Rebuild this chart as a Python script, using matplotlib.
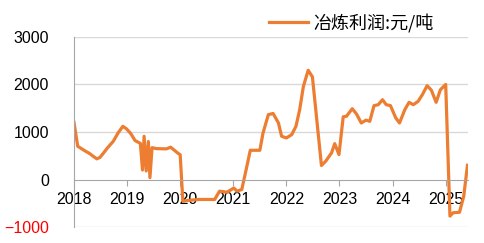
import matplotlib
matplotlib.use("Agg")
import matplotlib.pyplot as plt

# data: time in decimal years, smelting profit (yuan/ton)
t = [2018.00, 2018.07, 2018.21, 2018.29, 2018.36, 2018.43, 2018.49, 2018.55, 2018.63, 2018.74,
     2018.83, 2018.92, 2018.99, 2019.07, 2019.15, 2019.25, 2019.29, 2019.32, 2019.36, 2019.40,
     2019.43, 2019.47, 2019.55, 2019.74, 2019.82, 2019.95, 2020.00, 2020.05, 2020.15, 2020.35,
     2020.65, 2020.74, 2020.88, 2021.01, 2021.07, 2021.16, 2021.25, 2021.32, 2021.50, 2021.56,
     2021.66, 2021.75, 2021.85, 2021.91, 2022.00, 2022.10, 2022.18, 2022.25, 2022.32, 2022.41,
     2022.49, 2022.66, 2022.74, 2022.85, 2022.91, 2022.99, 2023.07, 2023.13, 2023.24, 2023.32,
     2023.41, 2023.50, 2023.57, 2023.65, 2023.73, 2023.81, 2023.88, 2023.96, 2024.06, 2024.13,
     2024.23, 2024.31, 2024.39, 2024.48, 2024.56, 2024.65, 2024.73, 2024.82, 2024.90, 2025.00,
     2025.08, 2025.14, 2025.26, 2025.34, 2025.41]
profit = [1200, 700, 600, 550, 490, 435, 465, 550, 665, 805,
          980, 1120, 1065, 965, 820, 760, 200, 910, 180, 800,
          40, 670, 650, 645, 680, 560, 520, -460, -440, -420,
          -420, -246, -267, -180, -246, -210, 250, 615, 615, 980,
          1365, 1390, 1190, 910, 875, 945, 1120, 1470, 1960, 2300,
          2160, 295, 385, 560, 755, 525, 1320, 1330, 1490, 1380,
          1190, 1250, 1225, 1555, 1575, 1680, 1575, 1555, 1295, 1190,
          1470, 1625, 1575, 1645, 1785, 1975, 1880, 1625, 1890, 2000,
          -770, -700, -690, -350, 300]
years = [2018, 2019, 2020, 2021, 2022, 2023, 2024, 2025]
yticks = [-1000, 0, 1000, 2000, 3000]
label = "冶炼利润:元/吨"

plt.rcParams['font.family'] = ['Liberation Sans', 'Noto Sans CJK SC']

fig = plt.figure(figsize=(4.85, 2.43), dpi=100)
ax = fig.add_axes([74/485, 1-227/243, (468-74)/485, 190/243])

ax.plot(t, profit, color='#ED7D31', lw=2.3, label=label, solid_joinstyle='round')

ax.set_xlim(2018, 2025.42)
ax.set_ylim(-1000, 3000)
ax.set_yticks(yticks)
ax.set_xticks(years)
ax.set_xticklabels([str(y) for y in years])
for y in [-1000, 1000, 2000, 3000]:
    ax.axhline(y, color='#d9d9d9', lw=1, zorder=0)

for s in ['top', 'right']:
    ax.spines[s].set_visible(False)
ax.spines['bottom'].set_position(('data', 0))
ax.spines['bottom'].set_color('#a6a6a6')
ax.spines['left'].set_color('#a6a6a6')
ax.tick_params(axis='y', length=0, pad=18, labelsize=11.5)
ax.tick_params(axis='x', length=4, direction='out', color='#a6a6a6', pad=5, labelsize=11.5)
ax.get_yticklabels()[0].set_color('red')

fig.legend(loc='center', bbox_to_anchor=(351/485, 1-23/243), frameon=False,
           handlelength=2.2, handletextpad=0.25, prop={'family': ['Noto Sans CJK SC'], 'size': 13})

fig.savefig('out.png', dpi=100)
